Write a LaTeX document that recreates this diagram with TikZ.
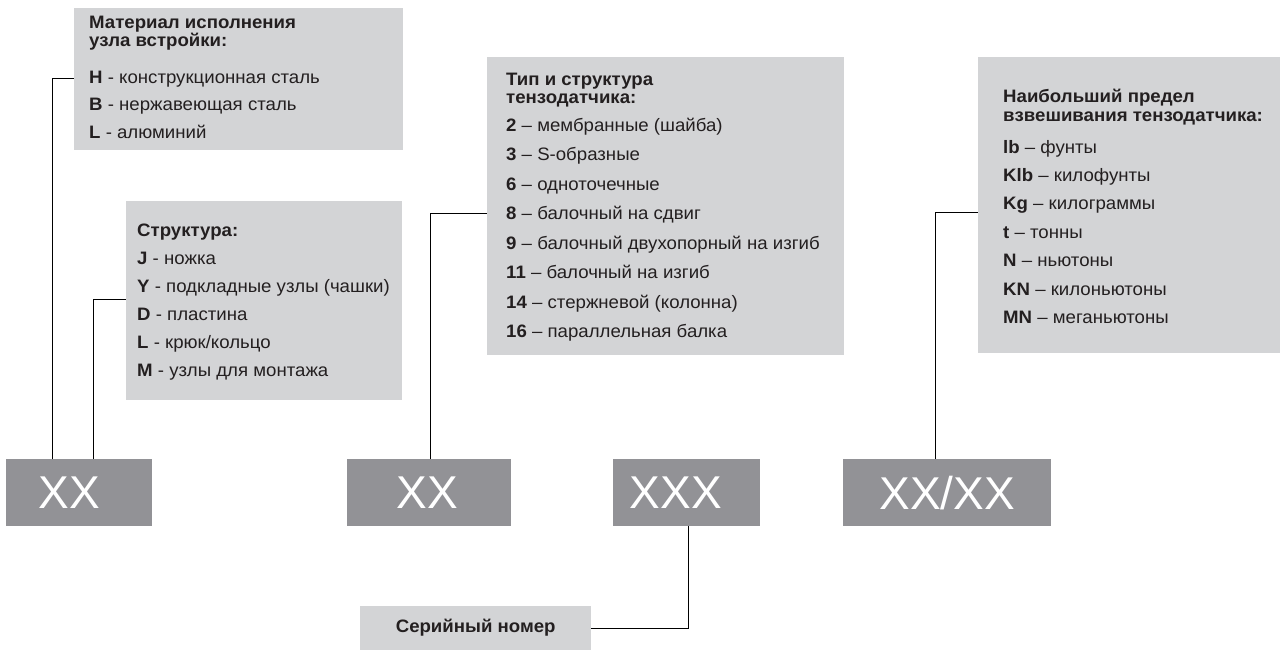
\documentclass[tikz,border=0pt]{standalone}
\usepackage{fontspec}
\setmainfont{Liberation Sans}[FakeStretch=1.035]
\newfontfamily\xxfont{Liberation Sans}
\definecolor{panel}{RGB}{211,212,214}
\definecolor{codegray}{RGB}{146,146,150}
\definecolor{ink}{RGB}{35,31,32}
\begin{document}
\begin{tikzpicture}[x=1pt,y=-1pt,
  panelbox/.style={fill=panel, draw=none, inner sep=0pt, anchor=north west},
  codebox/.style={fill=codegray, draw=none, inner sep=0pt, anchor=north west, text=white,
    font=\xxfont\fontsize{46}{46}\selectfont, minimum height=67pt},
  ttl/.style={anchor=base west, inner sep=0pt, text=ink, font=\bfseries\fontsize{18}{20}\selectfont},
  itm/.style={anchor=base west, inner sep=0pt, text=ink, font=\fontsize{18}{20}\selectfont},
  wire/.style={draw=black, line width=1pt}]
\useasboundingbox (0,0) rectangle (1280,657);

% panels
\node[panelbox, minimum width=329pt, minimum height=142pt] (p1) at (74,8) {};
\node[panelbox, minimum width=276pt, minimum height=199pt] (p2) at (126,201) {};
\node[panelbox, minimum width=357pt, minimum height=298pt] (p3) at (487,57) {};
\node[panelbox, minimum width=302pt, minimum height=296pt] (p4) at (978,57) {};

% panel 1
\node[ttl] (p1t1) at (89,28) {Материал исполнения};
\node[ttl] (p1t2) at (89,46) {узла встройки:};
\node[itm] (p1a) at (89,83) {\textbf{H} - конструкционная сталь};
\node[itm] (p1b) at (89,110.5) {\textbf{B} - нержавеющая сталь};
\node[itm] (p1c) at (89,138) {\textbf{L} - алюминий};

% panel 2
\node[ttl] (p2t) at (137,236) {Структура:};
\node[itm] (p2a) at (137,264) {\textbf{J} - ножка};
\node[itm] (p2b) at (137,292) {\textbf{Y} - подкладные узлы (чашки)};
\node[itm] (p2c) at (137,320) {\textbf{D} - пластина};
\node[itm] (p2d) at (137,348) {\textbf{L} - крюк/кольцо};
\node[itm] (p2e) at (137,376) {\textbf{M} - узлы для монтажа};

% panel 3
\node[ttl] (p3t1) at (506,85) {Тип и структура};
\node[ttl] (p3t2) at (506,103) {тензодатчика:};
\node[itm] (p3a) at (506,131) {\textbf{2} – мембранные (шайба)};
\node[itm] (p3b) at (506,160.5) {\textbf{3} – S-образные};
\node[itm] (p3c) at (506,190) {\textbf{6} – одноточечные};
\node[itm] (p3d) at (506,219.5) {\textbf{8} – балочный на сдвиг};
\node[itm] (p3e) at (506,249) {\textbf{9} – балочный двухопорный на изгиб};
\node[itm] (p3f) at (506,278.5) {\textbf{11} – балочный на изгиб};
\node[itm] (p3g) at (506,308) {\textbf{14} – стержневой (колонна)};
\node[itm] (p3h) at (506,337) {\textbf{16} – параллельная балка};

% panel 4
\node[ttl] (p4t1) at (1003,102) {Наибольший предел};
\node[ttl] (p4t2) at (1003,121) {взвешивания тензодатчика:};
\node[itm] (p4a) at (1003,153) {\textbf{lb} – фунты};
\node[itm] (p4b) at (1003,181) {\textbf{Klb} – килофунты};
\node[itm] (p4c) at (1003,209.5) {\textbf{Kg} – килограммы};
\node[itm] (p4d) at (1003,238) {\textbf{t} – тонны};
\node[itm] (p4e) at (1003,266.5) {\textbf{N} – ньютоны};
\node[itm] (p4f) at (1003,295) {\textbf{KN} – килоньютоны};
\node[itm] (p4g) at (1003,323.5) {\textbf{MN} – меганьютоны};

% code boxes
\node[codebox, minimum width=146pt] (c1) at (6,459) {XX\kern20pt};
\node[codebox, minimum width=164pt] (c2) at (347,459) {XX\kern4pt};
\node[codebox, minimum width=147pt] (c3) at (613,459) {XXX\kern22pt};
\node[codebox, minimum width=208pt] (c4) at (843,459) {XX/XX};

% serial number
\node[panelbox, anchor=west, minimum width=231pt, minimum height=44pt,
  text=ink, font=\bfseries\fontsize{18}{20}\selectfont] (sn) at (360,628) {Серийный номер};

% connectors
\draw[wire] ([xshift=46pt]c1.north west) |- (p1.west |- 0,78);
\draw[wire] ([xshift=87pt]c1.north west) |- (p2.west |- 0,299);
\draw[wire] ([xshift=83pt]c2.north west) |- (p3.west |- 0,213);
\draw[wire] ([xshift=92pt]c4.north west) |- (p4.west |- 0,212);
\draw[wire] ([xshift=75pt]c3.south west) |- (sn.east);
\end{tikzpicture}
\end{document}
